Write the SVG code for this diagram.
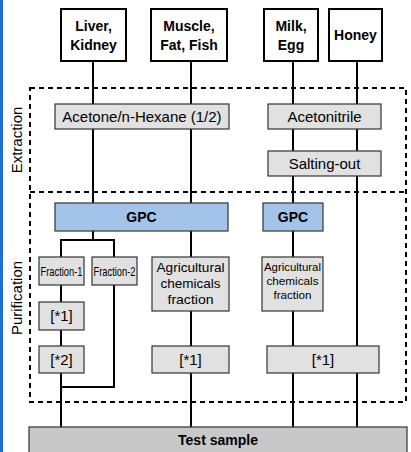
<svg xmlns="http://www.w3.org/2000/svg" width="411" height="452" viewBox="0 0 411 452">
<style>
.src{fill:#fff;stroke:#000;stroke-width:2}
.proc{fill:#e1e1e1;stroke:#333;stroke-width:1.2}
.gpc{fill:#a3c3e9;stroke:#333;stroke-width:1.2}
.test{fill:#c8c8c8;stroke:#333;stroke-width:1.2}
.grp{fill:none;stroke:#000;stroke-width:2;stroke-dasharray:5,4}
.ln{fill:none;stroke:#000;stroke-width:2}
text{font-family:"Liberation Sans",Arial,sans-serif;fill:#000;text-anchor:middle}
.b{font-weight:bold;font-size:14px}
.r{font-size:15px}
.c{font-size:13px}
.a1{font-size:13px}
.a2{font-size:11.5px}
.lab{font-size:15px}
</style>
<rect x="0" y="0" width="411" height="452" fill="#fff"/>
<rect x="0" y="0" width="3" height="452" fill="#1d6fd0"/>
<g id="groups">
<path class="grp" d="M30,88 H406 V402 H30 Z"/>
<path class="grp" d="M30,192 H406"/>
<text class="lab" transform="translate(22,140) rotate(-90)">Extraction</text>
<text class="lab" transform="translate(22,298) rotate(-90)">Purification</text>
</g>
<g id="connectors">
<line class="ln" x1="93" y1="61" x2="93" y2="240"/>
<polyline class="ln" points="61,257 61,240 114,240 114,387 61,387"/>
<line class="ln" x1="61" y1="285" x2="61" y2="427"/>
<line class="ln" x1="191" y1="61" x2="191" y2="427"/>
<line class="ln" x1="293" y1="61" x2="293" y2="427"/>
<line class="ln" x1="357" y1="61" x2="357" y2="427"/>
</g>
<g id="liver"><rect class="src" x="61" y="9" width="65" height="52"/><text class="b" x="93.5" y="31">Liver,</text><text class="b" x="93.5" y="50">Kidney</text></g>
<g id="muscle"><rect class="src" x="151" y="9" width="76" height="52"/><text class="b" x="189" y="31">Muscle,</text><text class="b" x="189" y="50">Fat, Fish</text></g>
<g id="milk"><rect class="src" x="264" y="9" width="54" height="52"/><text class="b" x="291" y="31">Milk,</text><text class="b" x="291" y="50">Egg</text></g>
<g id="honey"><rect class="src" x="329" y="9" width="53" height="52"/><text class="b" x="355.5" y="40">Honey</text></g>
<g id="acetone"><rect class="proc" x="55" y="104" width="174" height="25"/><text class="r" x="142" y="122">Acetone/n-Hexane (1/2)</text></g>
<g id="acetonitrile"><rect class="proc" x="268" y="104" width="113" height="25"/><text class="r" x="324.5" y="122">Acetonitrile</text></g>
<g id="salting"><rect class="proc" x="268" y="151" width="113" height="25"/><text class="r" x="324.5" y="169">Salting-out</text></g>
<g id="gpc1"><rect class="gpc" x="55" y="203" width="173" height="28"/><text class="b" x="141.5" y="222">GPC</text></g>
<g id="gpc2"><rect class="gpc" x="263" y="203" width="60" height="28"/><text class="b" x="293" y="222">GPC</text></g>
<g id="frac1"><rect class="proc" x="39" y="257" width="45" height="28"/><text class="c" x="61.5" y="276" textLength="42" lengthAdjust="spacingAndGlyphs">Fraction-1</text></g>
<g id="frac2"><rect class="proc" x="92" y="257" width="45" height="28"/><text class="c" x="114.5" y="276" textLength="42" lengthAdjust="spacingAndGlyphs">Fraction-2</text></g>
<g id="agri1"><rect class="proc" x="152" y="257" width="77" height="54"/><text class="a1" x="190.5" y="272" textLength="68" lengthAdjust="spacingAndGlyphs">Agricultural</text><text class="a1" x="190.5" y="288" textLength="60" lengthAdjust="spacingAndGlyphs">chemicals</text><text class="a1" x="190.5" y="304" textLength="46" lengthAdjust="spacingAndGlyphs">fraction</text></g>
<g id="agri2"><rect class="proc" x="262" y="257" width="61" height="54"/><text class="a2" x="292.5" y="271" textLength="57" lengthAdjust="spacingAndGlyphs">Agricultural</text><text class="a2" x="292.5" y="285" textLength="52" lengthAdjust="spacingAndGlyphs">chemicals</text><text class="a2" x="292.5" y="299" textLength="38" lengthAdjust="spacingAndGlyphs">fraction</text></g>
<g id="s1a"><rect class="proc" x="39" y="302" width="45" height="28"/><text class="r" x="61.5" y="321">[*1]</text></g>
<g id="s2"><rect class="proc" x="39" y="346" width="45" height="27"/><text class="r" x="61.5" y="365">[*2]</text></g>
<g id="s1b"><rect class="proc" x="152" y="346" width="77" height="27"/><text class="r" x="190.5" y="365">[*1]</text></g>
<g id="s1c"><rect class="proc" x="267" y="346" width="112" height="27"/><text class="r" x="323" y="365">[*1]</text></g>
<g id="test"><rect class="test" x="29" y="427" width="378" height="30"/><text class="b" x="218" y="445">Test sample</text></g>
</svg>
